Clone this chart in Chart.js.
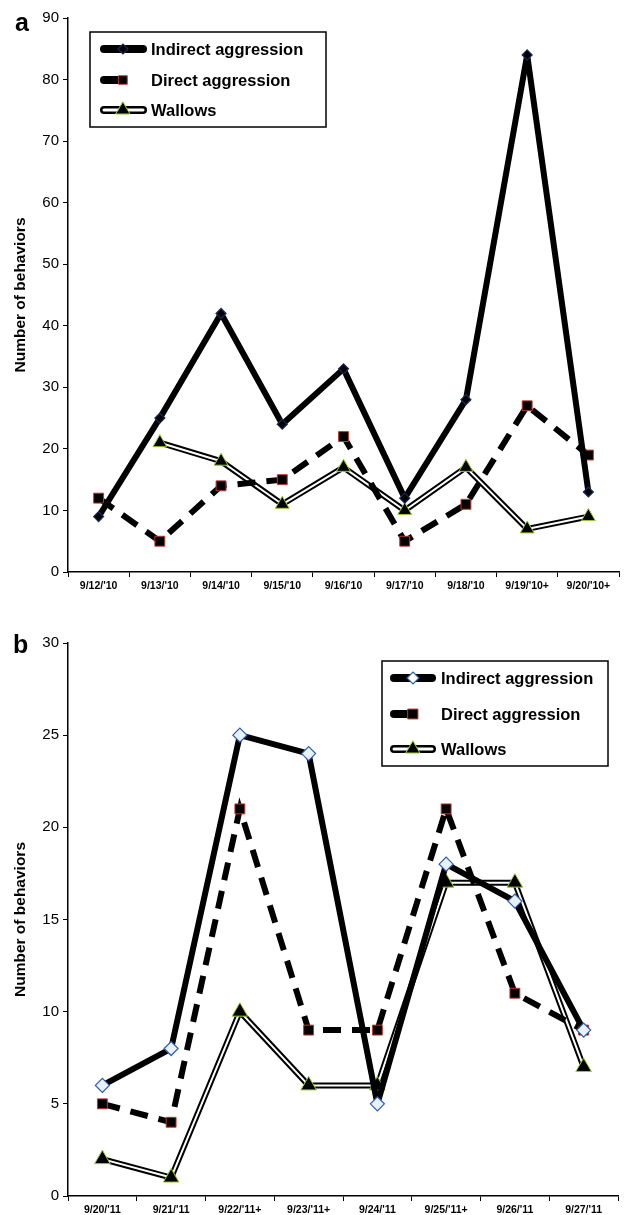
<!DOCTYPE html>
<html><head><meta charset="utf-8">
<script src="https://cdn.jsdelivr.net/npm/chart.js@4.4.0/dist/chart.umd.min.js"></script>
<style>
html,body{margin:0;padding:0;background:#fff;}
#wrap{position:relative;width:628px;height:1215px;overflow:hidden;background:#fff;}
.box{position:absolute;left:0;width:628px;}
.panel{position:absolute;font:bold 25px "Liberation Sans",Arial,sans-serif;color:#000;line-height:1;}
</style></head><body>
<div id="wrap">
<div class="box" style="top:0;height:607px"><canvas id="ca"></canvas></div>
<div class="box" style="top:600px;height:615px"><canvas id="cb"></canvas></div>
<div class="panel" style="left:15px;top:10px">a</div>
<div class="panel" style="left:13px;top:632px">b</div>
</div>
<script>
// ---- data: panel a ----
const labelsA = ["9/12/'10","9/13/'10","9/14/'10","9/15/'10","9/16/'10","9/17/'10","9/18/'10","9/19/'10+","9/20/'10+"];
const indirectA = [9, 25, 42, 24, 33, 12, 28, 84, 13];
const directA   = [12, 5, 14, 15, 22, 5, 11, 27, 19];
const wallowsA  = [null, 21, 18, 11, 17, 10, 17, 7, 9];
// ---- data: panel b ----
const labelsB = ["9/20/'11","9/21/'11","9/22/'11+","9/23/'11+","9/24/'11","9/25/'11+","9/26/'11","9/27/'11"];
const indirectB = [6, 8, 25, 24, 5, 18, 16, 9];
const directB   = [5, 4, 21, 9, 9, 21, 11, 9];
const wallowsB  = [2, 1, 10, 6, 6, 17, 17, 7];
const seriesNames = ["Indirect aggression", "Direct aggression", "Wallows"];

const FAM = '"Liberation Sans", Arial, Helvetica, sans-serif';
const RED = '#c0392b', GREEN = '#9acd32', BLUE = '#2a5db0', NAVY = '#1a2a5a';

// Chart.js draws dataset index 0 on top, so list top-most first
function makeDatasets(ind, dir, wal, diamondFill, diamondBorder, dR, sR, tR) {
  return [
    { label: seriesNames[0], data: ind, borderColor: '#000', borderWidth: 6, borderJoinStyle: 'round', pointStyle: 'rectRot', pointRadius: dR, pointBackgroundColor: diamondFill, pointBorderColor: diamondBorder, pointBorderWidth: 1.2, fill: false },
    { label: seriesNames[1], data: dir, borderColor: '#000', borderWidth: 6, borderDash: [18, 11], pointStyle: 'rect', pointRadius: sR, pointBackgroundColor: '#000', pointBorderColor: RED, pointBorderWidth: 1, fill: false },
    { label: seriesNames[2], data: wal, borderColor: '#fff', borderWidth: 2, borderJoinStyle: 'round', pointStyle: 'triangle', pointRadius: tR, pointBackgroundColor: '#000', pointBorderColor: GREEN, pointBorderWidth: 1, fill: false },
    { label: seriesNames[2] + ' outer', data: wal, borderColor: '#000', borderWidth: 6, borderJoinStyle: 'round', borderCapStyle: 'round', pointRadius: 0, fill: false }
  ];
}

function makeScales(max, step, xHeight) {
  return {
    x: {
      type: 'category', offset: true,
      grid: { display: true, drawOnChartArea: false, drawTicks: true, tickLength: 5, color: '#000', offset: true },
      border: { display: true, color: '#000', width: 1.5 },
      ticks: { color: '#000', font: { family: FAM, size: 10.5, weight: 'bold' }, padding: 3, maxRotation: 0, autoSkip: false },
      afterFit(s) { s.height = xHeight; }
    },
    y: {
      min: 0, max: max,
      ticks: { stepSize: step, color: '#000', font: { family: FAM, size: 15 }, padding: 4 },
      grid: { display: true, drawOnChartArea: false, drawTicks: true, tickLength: 5, color: '#000' },
      border: { display: true, color: '#000', width: 1.5 },
      title: { display: true, text: 'Number of behaviors', color: '#000', font: { family: FAM, size: 15.5, weight: 'bold' }, padding: { top: 11, bottom: 0 } },
      afterFit(s) { s.width = 68; }
    }
  };
}

function legendPlugin(L) {
  return {
    id: 'customLegend',
    afterDraw(chart) {
      const ctx = chart.ctx;
      const H = Chart.helpers;
      ctx.save();
      ctx.fillStyle = '#fff';
      ctx.fillRect(L.x, L.y, L.w, L.h);
      ctx.strokeStyle = '#000';
      ctx.lineWidth = 1.5;
      ctx.strokeRect(L.x, L.y, L.w, L.h);
      ctx.lineCap = 'round';
      // row 0: indirect
      let y = L.rows[0];
      ctx.strokeStyle = '#000'; ctx.lineWidth = 8;
      ctx.beginPath(); ctx.moveTo(L.s0, y); ctx.lineTo(L.s1, y); ctx.stroke();
      ctx.fillStyle = L.dFill; ctx.strokeStyle = L.dBorder; ctx.lineWidth = 1.2;
      H.drawPoint(ctx, { pointStyle: 'rectRot', radius: L.dR, rotation: 0, borderWidth: 1.2 }, L.m, y);
      // row 1: direct
      y = L.rows[1];
      ctx.strokeStyle = '#000'; ctx.lineWidth = 8;
      ctx.beginPath(); ctx.moveTo(L.s0, y); ctx.lineTo(L.m - 4, y); ctx.stroke();
      ctx.fillStyle = '#000'; ctx.strokeStyle = RED; ctx.lineWidth = 1;
      H.drawPoint(ctx, { pointStyle: 'rect', radius: L.sR, rotation: 0, borderWidth: 1 }, L.m, y);
      // row 2: wallows
      y = L.rows[2];
      ctx.strokeStyle = '#000'; ctx.lineWidth = 8;
      ctx.beginPath(); ctx.moveTo(L.s0, y); ctx.lineTo(L.s1, y); ctx.stroke();
      ctx.strokeStyle = '#fff'; ctx.lineWidth = 3;
      ctx.beginPath(); ctx.moveTo(L.s0, y); ctx.lineTo(L.s1, y); ctx.stroke();
      ctx.fillStyle = '#000'; ctx.strokeStyle = GREEN; ctx.lineWidth = 1;
      H.drawPoint(ctx, { pointStyle: 'triangle', radius: L.tR, rotation: 0, borderWidth: 1 }, L.m, y);
      // texts
      ctx.fillStyle = '#000';
      ctx.font = 'bold ' + L.fs + 'px ' + FAM;
      ctx.textBaseline = 'middle';
      ctx.textAlign = 'left';
      for (let i = 0; i < 3; i++) ctx.fillText(seriesNames[i], L.tx, L.rows[i] + 1);
      ctx.restore();
    }
  };
}

function build(id, labels, datasets, scales, padTop, legend) {
  return new Chart(document.getElementById(id), {
    type: 'line',
    data: { labels: labels, datasets: datasets },
    options: {
      responsive: true, maintainAspectRatio: false, animation: false, devicePixelRatio: 1,
      layout: { padding: { top: padTop, left: 0, right: 0, bottom: 0 } },
      plugins: { legend: { display: false }, tooltip: { enabled: false } },
      elements: { line: { tension: 0 } },
      scales: scales
    },
    plugins: [legendPlugin(legend)]
  });
}

build('ca', labelsA,
  makeDatasets(indirectA, directA, wallowsA, '#000', NAVY, 5, 7, 8),
  makeScales(90, 10, 35), 18,
  { x: 90, y: 32, w: 236, h: 95, rows: [49, 80, 110], s0: 104, s1: 143, m: 123, tx: 151, fs: 16.5,
    dFill: '#000', dBorder: NAVY, dR: 5, sR: 6, tR: 8 });

build('cb', labelsB,
  makeDatasets(indirectB, directB, wallowsB, '#e8f0fa', BLUE, 7, 7, 9),
  makeScales(30, 5, 19), 43,
  { x: 382, y: 61, w: 226, h: 105, rows: [78, 114, 149], s0: 394, s1: 432, m: 413, tx: 441, fs: 16.5,
    dFill: '#fff', dBorder: BLUE, dR: 6, sR: 7, tR: 8 });
</script>
</body></html>
